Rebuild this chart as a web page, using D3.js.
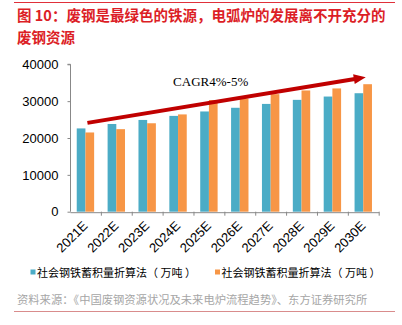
<!DOCTYPE html>
<html>
<head>
<meta charset="utf-8">
<script src="https://cdn.jsdelivr.net/npm/d3@7"></script>
<style>
  html, body { margin: 0; padding: 0; background: #fff; }
  svg { display: block; }
</style>
</head>
<body>
<svg id="chart" width="402" height="325"></svg>
<script>
const titleLines = ["图 10：废钢是最绿色的铁源，电弧炉的发展离不开充分的", "废钢资源"];
const categories = ["2021E","2022E","2023E","2024E","2025E","2026E","2027E","2028E","2029E","2030E"];
const seriesNames = ["社会钢铁蓄积量折算法（ 万吨 ）", "社会钢铁蓄积量折算法（ 万吨 ）"];
const seriesA = [22600, 23800, 24900, 26000, 27200, 28200, 29250, 30350, 31250, 32150];
const seriesB = [21500, 22400, 24000, 26400, 30300, 30700, 31900, 32900, 33450, 34600];
const yTicks = [0, 10000, 20000, 30000, 40000];
const cagrLabel = "CAGR4%-5%";
const arrowFrom = ["2021E", 24100];
const arrowTo = ["2030E", 36500];
const sourceText = "资料来源：《中国废钢资源状况及未来电炉流程趋势》、东方证券研究所";

const colors = ["#4bacc6", "#f79646"];
const svg = d3.select("#chart");
const cjk = "'Noto Sans CJK SC', 'Noto Sans', sans-serif";
const latin = "'Liberation Sans', Arial, sans-serif";

// top rule
svg.append("line").attr("x1", 14).attr("x2", 395).attr("y1", 2.5).attr("y2", 2.5)
  .attr("stroke", "#e0303a").attr("stroke-width", 1);

// title
svg.selectAll("text.title").data(titleLines).join("text")
  .attr("class", "title")
  .attr("x", 17).attr("y", (d, i) => 21 + i * 22)
  .attr("fill", "#dc1e26")
  .attr("font-family", cjk).attr("font-weight", "bold").attr("font-size", 14.5)
  .text(d => d);

// scales
const x = d3.scaleBand().domain(categories).range([70, 378.7]).padding(0);
const y = d3.scaleLinear().domain([0, 40000]).range([211.7, 64.3]);
const inner = d3.scaleBand().domain([0, 1]).range([0, 17.4]);
const off = (x.bandwidth() - 17.4) / 2;

// bars
const series = [seriesA, seriesB];
series.forEach((vals, si) => {
  svg.append("g").selectAll("rect").data(vals).join("rect")
    .attr("x", (d, i) => x(categories[i]) + off + inner(si))
    .attr("width", inner.bandwidth())
    .attr("y", d => y(d))
    .attr("height", d => y(0) - y(d))
    .attr("fill", colors[si]);
});

// y axis
const yAxis = svg.append("g").attr("transform", "translate(70.5,0)")
  .call(d3.axisLeft(y).tickValues(yTicks).tickSize(3).tickPadding(9).tickFormat(d3.format("d")));
yAxis.select(".domain").attr("stroke", "#888").attr("d", `M-3,${y(40000)}H0V${y(0)}`);
yAxis.selectAll(".tick line").attr("stroke", "#888");
yAxis.selectAll(".tick text").attr("font-family", latin).attr("font-size", 13).attr("fill", "#000");

// x axis
const xAxis = svg.append("g").attr("transform", `translate(0,${y(0) + 0.5})`)
  .call(d3.axisBottom(x).tickSize(0).tickFormat(""));
xAxis.select(".domain").attr("stroke", "#888");
const bounds = categories.map(c => x(c) + x.bandwidth());
svg.append("g").selectAll("line").data(bounds).join("line")
  .attr("x1", d => d + 0.5).attr("x2", d => d + 0.5)
  .attr("y1", y(0)).attr("y2", y(0) + 4)
  .attr("stroke", "#888");

svg.append("g").selectAll("text").data(categories).join("text")
  .attr("transform", d => `translate(${x(d) + x.bandwidth() / 2 + 3},${y(0) + 15}) rotate(-45)`)
  .attr("text-anchor", "end")
  .attr("font-family", latin).attr("font-size", 13).attr("fill", "#000")
  .text(d => d);

// arrow
const ax1 = x(arrowFrom[0]) + x.bandwidth() / 2 + 2, ay1 = y(arrowFrom[1]);
const ax2 = x(arrowTo[0]) + x.bandwidth() / 2 + 2.5, ay2 = y(arrowTo[1]);
const ang = Math.atan2(ay2 - ay1, ax2 - ax1);
const headLen = 12, headHalf = 5;
const bx = ax2 - headLen * Math.cos(ang), by = ay2 - headLen * Math.sin(ang);
svg.append("line").attr("x1", ax1).attr("y1", ay1).attr("x2", bx + Math.cos(ang)).attr("y2", by + Math.sin(ang))
  .attr("stroke", "#c00000").attr("stroke-width", 4);
svg.append("path")
  .attr("d", `M${ax2},${ay2}L${bx - headHalf * Math.sin(ang)},${by + headHalf * Math.cos(ang)}L${bx + headHalf * Math.sin(ang)},${by - headHalf * Math.cos(ang)}Z`)
  .attr("fill", "#c00000");

svg.append("text")
  .attr("x", x("2024E") + 10.5).attr("y", y(34150))
  .attr("font-family", "'Liberation Serif', 'Times New Roman', serif").attr("font-size", 13)
  .attr("fill", "#000")
  .text(cagrLabel);

// legend
const legX = [30.5, 215];
seriesNames.forEach((name, i) => {
  svg.append("rect").attr("x", legX[i]).attr("y", 269.5).attr("width", 5).attr("height", 5).attr("fill", colors[i]);
  svg.append("text").attr("x", legX[i] + 6.5).attr("y", 276.5)
    .attr("font-family", cjk).attr("font-size", 11).attr("fill", "#000")
    .text(name);
});

// source
svg.append("text").attr("x", 17).attr("y", 304)
  .attr("font-family", cjk).attr("font-size", 11.3).attr("fill", "#a6a6a6")
  .text(sourceText);
svg.append("line").attr("x1", 14).attr("x2", 395).attr("y1", 311.5).attr("y2", 311.5)
  .attr("stroke", "#d98c8c").attr("stroke-width", 1);
</script>
</body>
</html>
